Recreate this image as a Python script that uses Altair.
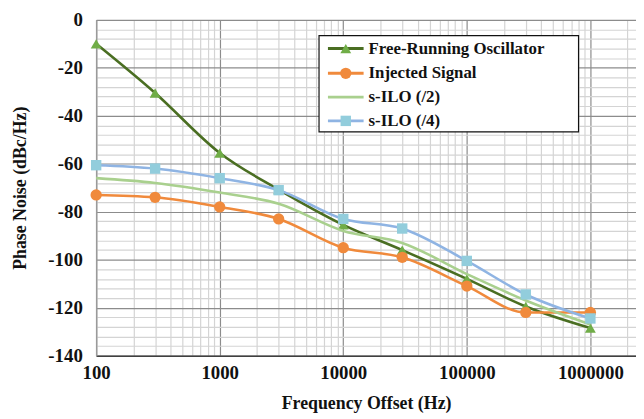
import altair as alt
import pandas as pd

freq = [100, 300, 1000, 3000, 10000, 30000, 100000, 300000, 1000000]
free_running = [-10, -30.5, -55.5, -70.8, -85.5, -96, -108, -119.5, -128.5]
injected = [-73, -74, -78, -83, -95, -99, -111, -122, -122]
silo2 = [-66, -68, -72, -76.7, -88, -93, -106, -117, -127]
silo4 = [-60.6, -62, -66, -71, -83, -87, -100.5, -114.5, -124.5]

series_names = ["Free-Running Oscillator", "Injected Signal", "s-ILO (/2)", "s-ILO (/4)"]
series_values = [free_running, injected, silo2, silo4]
line_colors = ["#4a6e22", "#f08a3c", "#a9d08e", "#8fb4e3"]
marker_colors = ["#70ad47", "#f08a3c", None, "#92cddc"]
marker_shapes = ["triangle-up", "circle", None, "square"]
marker_sizes = [120, 130, 0, 110]

x_major = [100, 1000, 10000, 100000, 1000000]
x_ticks = [m * d for d in x_major for m in range(1, 10)]
y_ticks = list(range(-140, 1, 4))

FONT = "Liberation Serif"
decade_test = "abs(log(datum.value)/LN10 - round(log(datum.value)/LN10)) < 0.001"

x_enc = alt.X(
    "f:Q",
    scale=alt.Scale(type="log", domain=[100, 2340000], nice=False),
    axis=alt.Axis(
        values=x_ticks,
        labelExpr=f"({decade_test}) ? toString(datum.value) : ''",
        title="Frequency Offset (Hz)",
        gridColor={"condition": {"test": decade_test, "value": "#8c8c8c"}, "value": "#d4d4d4"},
        gridWidth=1.2,
        ticks=False,
        domainColor="#404040",
        domainWidth=1.5,
        labelFont=FONT, labelFontWeight="bold", labelFontSize=19, labelColor="#111",
        labelPadding=8, labelFlush=False,
        titleFont=FONT, titleFontWeight="bold", titleFontSize=18, titleColor="#111",
        titlePadding=12,
    ),
)
y_enc = alt.Y(
    "v:Q",
    scale=alt.Scale(domain=[-140, 0], nice=False),
    axis=alt.Axis(
        values=y_ticks,
        labelExpr="datum.value % 20 === 0 ? toString(datum.value) : ''",
        title="Phase Noise (dBc/Hz)",
        gridColor={"condition": {"test": "datum.value % 20 === 0", "value": "#8c8c8c"}, "value": "#d4d4d4"},
        gridWidth=1.2,
        ticks=False,
        domainColor="#9a9a9a",
        domainWidth=1.5,
        labelFont=FONT, labelFontWeight="bold", labelFontSize=19, labelColor="#111",
        labelPadding=14, labelFlush=False,
        titleFont=FONT, titleFontWeight="bold", titleFontSize=18, titleColor="#111",
        titlePadding=19,
    ),
)

layers = []
for name, vals, lc, mc, shp, sz in zip(series_names, series_values, line_colors,
                                        marker_colors, marker_shapes, marker_sizes):
    df = pd.DataFrame({"f": freq, "v": vals})
    base = alt.Chart(df)
    layers.append(base.mark_line(strokeWidth=2.6, interpolate="monotone", color=lc).encode(x=x_enc, y=y_enc))
    if shp is not None:
        layers.append(base.mark_point(filled=True, opacity=1, shape=shp, size=sz, color=mc).encode(x=x_enc, y=y_enc))

# legend box
leg_x0, leg_x1, leg_y0, leg_y1 = 225, 487, 16, 113
row_y = [29, 54, 78, 102]
layers.append(
    alt.Chart(pd.DataFrame({"a": [0]})).mark_rect(fill="white", stroke="#111", strokeWidth=1.2).encode(
        x=alt.value(leg_x0), x2=alt.value(leg_x1), y=alt.value(leg_y0), y2=alt.value(leg_y1)
    )
)
for name, lc, mc, shp, sz, ry in zip(series_names, line_colors, marker_colors, marker_shapes, marker_sizes, row_y):
    one = alt.Chart(pd.DataFrame({"label": [name]}))
    layers.append(one.mark_rule(color=lc, strokeWidth=3).encode(
        x=alt.value(234), x2=alt.value(270), y=alt.value(ry)))
    if shp is not None:
        layers.append(one.mark_point(filled=True, opacity=1, shape=shp, size=sz, color=mc).encode(
            x=alt.value(252), y=alt.value(ry)))
    layers.append(one.mark_text(align="left", baseline="middle", font=FONT, fontWeight="bold",
                                fontSize=17, color="#111").encode(
        x=alt.value(275), y=alt.value(ry), text="label:N"))

chart = alt.layer(*layers).properties(
    width=545, height=339,
    padding={"left": 89, "top": 10, "right": 0, "bottom": 62},
    autosize=alt.AutoSizeParams(type="none"),
    background="white",
).configure_view(stroke=None)

chart.save("out.html", embed_options={"renderer": "svg", "actions": False})
